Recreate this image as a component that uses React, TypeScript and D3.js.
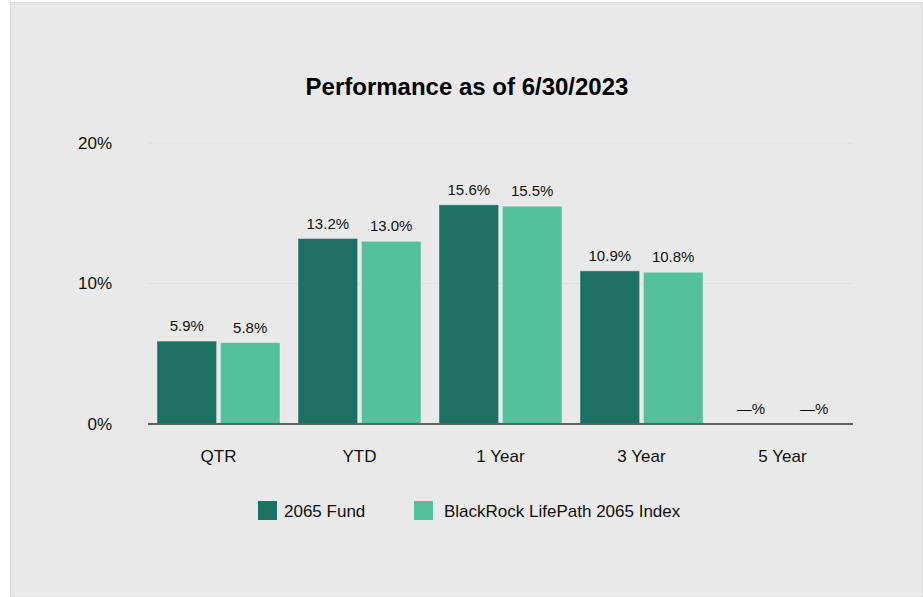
import { scaleBand, scaleLinear } from "d3";

const categories = ["QTR", "YTD", "1 Year", "3 Year", "5 Year"];
const fundValues: (number | null)[] = [5.9, 13.2, 15.6, 10.9, null];
const indexValues: (number | null)[] = [5.8, 13.0, 15.5, 10.8, null];
const seriesNames = ["2065 Fund", "BlackRock LifePath 2065 Index"];
const yTicks = [0, 10, 20];

const WIDTH = 923;
const HEIGHT = 597;
const MARGIN = { top: 143, left: 148, bottom: 173, right: 70 };
const COLORS = ["#1c7064", "#55c09c"];
const FONT = "'Liberation Sans', Arial, sans-serif";

export default function App() {
  const boundsWidth = WIDTH - MARGIN.left - MARGIN.right;
  const boundsHeight = HEIGHT - MARGIN.top - MARGIN.bottom;

  const xScale = scaleBand<string>()
    .domain(categories)
    .range([0, boundsWidth])
    .paddingInner(0.128)
    .paddingOuter(0.064);
  const subScale = scaleBand<string>()
    .domain(seriesNames)
    .range([0, xScale.bandwidth()])
    .paddingInner(0.06);
  const yScale = scaleLinear().domain([0, 20]).range([boundsHeight, 0]);

  const series = [fundValues, indexValues];

  return (
    <svg
      width={WIDTH}
      height={HEIGHT}
      style={{ position: "absolute", left: 0, top: 0, fontFamily: FONT }}
    >
      <rect x={0} y={0} width={WIDTH} height={HEIGHT} fill="#ffffff" />
      <rect
        x={10.5}
        y={2.5}
        width={WIDTH - 11}
        height={HEIGHT - 3}
        fill="#e9e9e9"
        stroke="#dcdcdc"
      />
      <text
        x={467}
        y={95}
        textAnchor="middle"
        fontSize={24}
        fontWeight={700}
        fill="#000"
      >
        Performance as of 6/30/2023
      </text>

      <g transform={`translate(${MARGIN.left},${MARGIN.top})`}>
        {yTicks.map((t) => (
          <g key={t}>
            {t > 0 && (
              <line
                x1={0}
                x2={boundsWidth}
                y1={yScale(t)}
                y2={yScale(t)}
                stroke="#dedede"
                strokeWidth={1}
              />
            )}
            <text
              x={-36}
              y={yScale(t)}
              dy="0.35em"
              textAnchor="end"
              fontSize={17}
              fill="#111"
            >
              {t}%
            </text>
          </g>
        ))}

        {categories.map((c, i) => (
          <g key={c} transform={`translate(${xScale(c)},0)`}>
            {series.map((vals, s) => {
              const v = vals[i];
              const x = subScale(seriesNames[s]) ?? 0;
              const w = subScale.bandwidth();
              return (
                <g key={s}>
                  {v !== null && (
                    <rect
                      x={x}
                      y={yScale(v)}
                      width={w}
                      height={boundsHeight - yScale(v)}
                      fill={COLORS[s]}
                      stroke="rgba(255,255,255,0.35)"
                      strokeWidth={1}
                    />
                  )}
                  <text
                    x={x + w / 2}
                    y={(v !== null ? yScale(v) : boundsHeight) - 10}
                    textAnchor="middle"
                    fontSize={15}
                    fill="#111"
                  >
                    {v !== null ? `${v.toFixed(1)}%` : "—%"}
                  </text>
                </g>
              );
            })}
            <text
              x={xScale.bandwidth() / 2}
              y={boundsHeight + 38}
              textAnchor="middle"
              fontSize={17}
              fill="#111"
            >
              {c}
            </text>
          </g>
        ))}

        <line
          x1={0}
          x2={boundsWidth}
          y1={boundsHeight}
          y2={boundsHeight}
          stroke="#606060"
          strokeWidth={2}
        />
      </g>

      <g transform="translate(258,501)">
        <rect x={0} y={0} width={19} height={19} fill={COLORS[0]} />
        <text x={26} y={15.5} fontSize={17} fill="#111">
          {seriesNames[0]}
        </text>
        <rect x={156} y={0} width={19} height={19} fill={COLORS[1]} />
        <text x={186} y={15.5} fontSize={17} fill="#111">
          {seriesNames[1]}
        </text>
      </g>
    </svg>
  );
}
